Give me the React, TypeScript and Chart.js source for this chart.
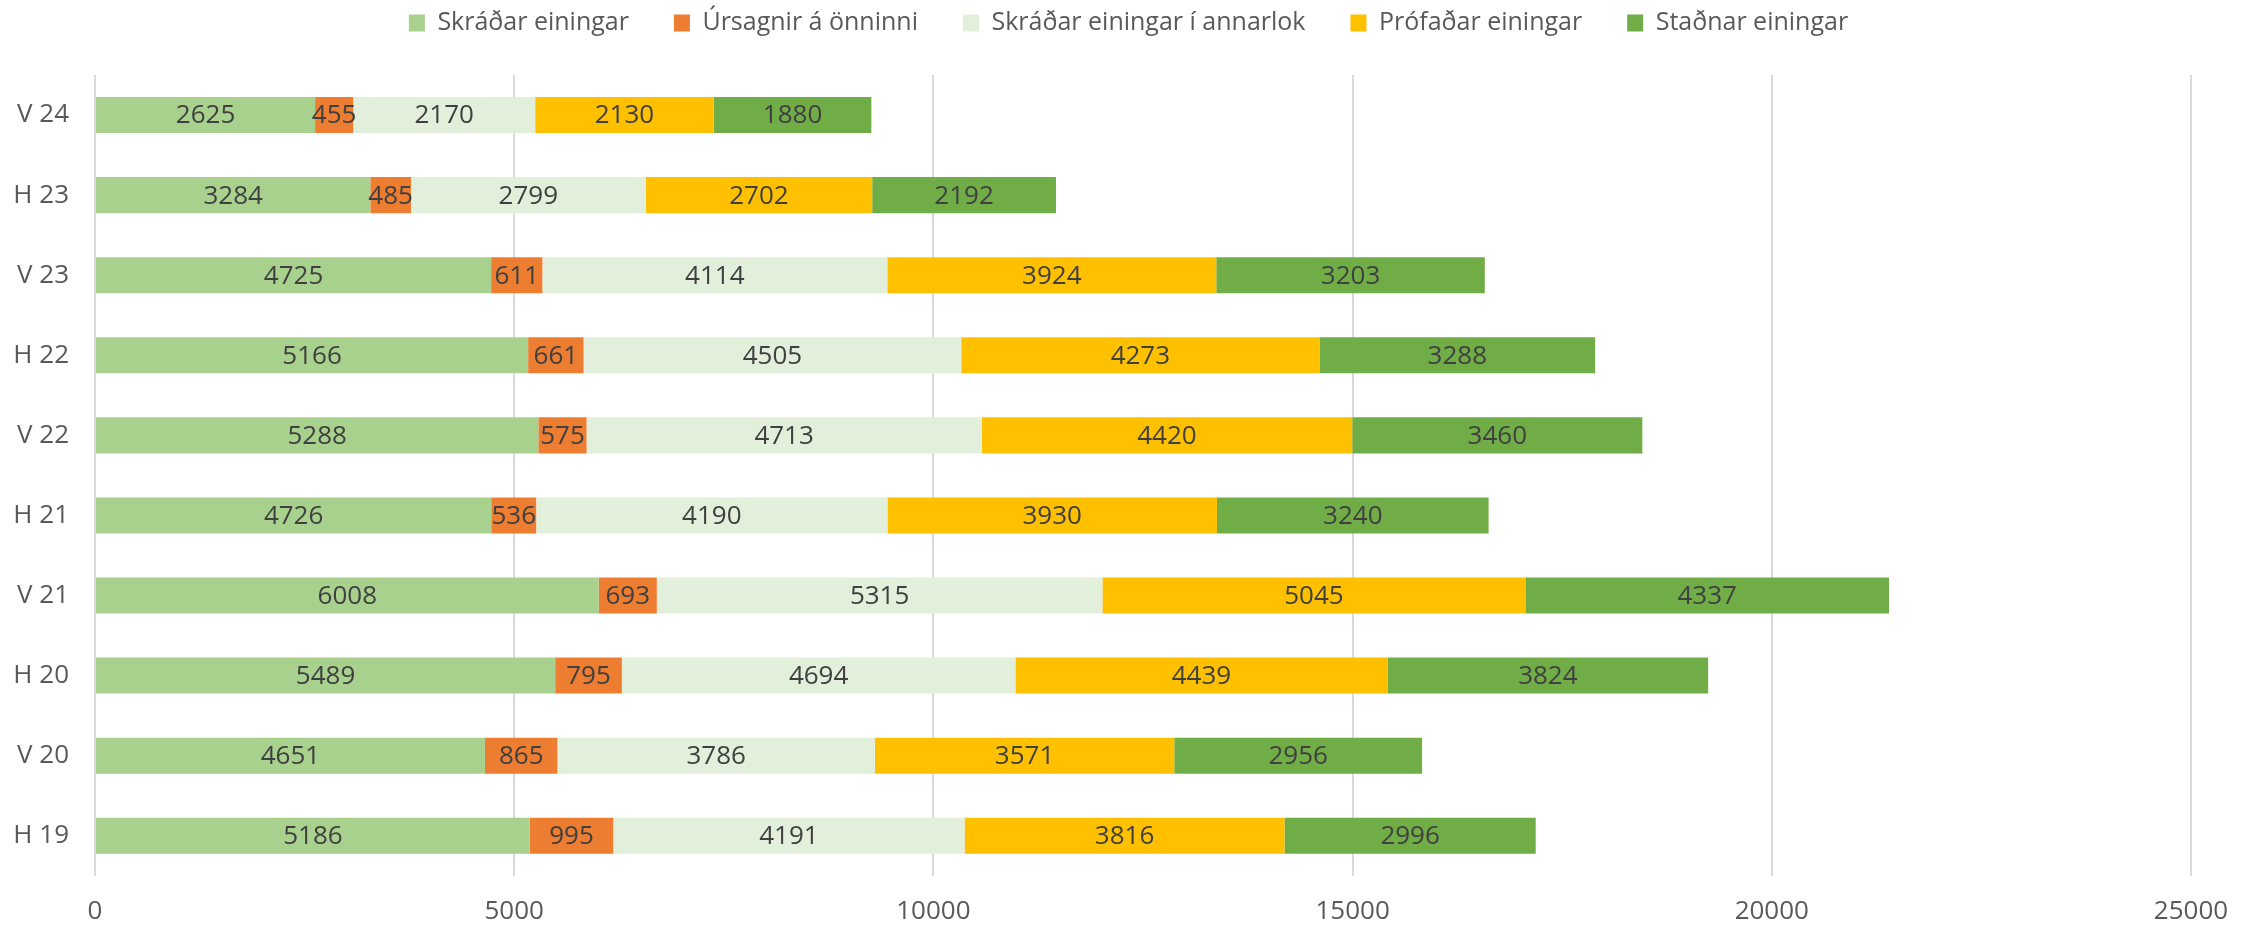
import React, { useEffect, useRef } from "react";
import { Chart, registerables } from "chart.js";

Chart.register(...registerables);

const categories = ["V 24", "H 23", "V 23", "H 22", "V 22", "H 21", "V 21", "H 20", "V 20", "H 19"];
const skradar = [2625, 3284, 4725, 5166, 5288, 4726, 6008, 5489, 4651, 5186];
const ursagnir = [455, 485, 611, 661, 575, 536, 693, 795, 865, 995];
const annarlok = [2170, 2799, 4114, 4505, 4713, 4190, 5315, 4694, 3786, 4191];
const profadar = [2130, 2702, 3924, 4273, 4420, 3930, 5045, 4439, 3571, 3816];
const stadnar = [1880, 2192, 3203, 3288, 3460, 3240, 4337, 3824, 2956, 2996];

const seriesNames = [
  "Skráðar einingar",
  "Úrsagnir á önninni",
  "Skráðar einingar í annarlok",
  "Prófaðar einingar",
  "Staðnar einingar",
];
const seriesColors = ["#A9D18E", "#ED7D31", "#E2EFDA", "#FFC000", "#70AD47"];

const FONT = '"Open Sans", "DejaVu Sans", sans-serif';
const LEGEND_PAD = 45;

const segLabels = {
  id: "segLabels",
  afterDatasetsDraw(chart: any) {
    const ctx = chart.ctx;
    ctx.save();
    ctx.font = `26px ${FONT}`;
    ctx.fillStyle = "#404040";
    ctx.textAlign = "center";
    ctx.textBaseline = "middle";
    chart.data.datasets.forEach((ds: any, i: number) => {
      const meta = chart.getDatasetMeta(i);
      meta.data.forEach((bar: any, j: number) => {
        const p = bar.getProps(["x", "y", "base"], true);
        ctx.fillText(String(ds.data[j]), (p.x + p.base) / 2, p.y + 1);
      });
    });
    ctx.restore();
  },
};

const legendPlace = {
  id: "legendPlace",
  beforeInit(chart: any) {
    const lg = chart.legend;
    if (lg) {
      const orig = lg.fit;
      lg.fit = function () {
        orig.call(this);
        this.height = 75;
      };
    }
  },
  afterLayout(chart: any) {
    const lg = chart.legend;
    if (lg) {
      lg.top = 23 - 12.5 - LEGEND_PAD;
      lg.bottom = lg.top + lg.height;
      lg.left = 0;
      lg.right = chart.width;
      lg.width = chart.width;
    }
  },
};

export default function App() {
  const ref = useRef<HTMLCanvasElement | null>(null);
  useEffect(() => {
    if (!ref.current) return;
    const series = [skradar, ursagnir, annarlok, profadar, stadnar];
    const chart = new Chart(ref.current, {
      type: "bar",
      data: {
        labels: categories,
        datasets: series.map((d, i) => ({
          label: seriesNames[i],
          data: d,
          backgroundColor: seriesColors[i],
          borderWidth: 0,
          barPercentage: 0.45,
          categoryPercentage: 1,
        })),
      },
      options: {
        indexAxis: "y",
        responsive: false,
        animation: false,
        devicePixelRatio: 1,
        layout: { padding: { top: 0, right: 66, bottom: -22, left: 0 } },
        plugins: {
          legend: {
            position: "top",
            labels: {
              boxWidth: 16,
              boxHeight: 17,
              padding: LEGEND_PAD,
              color: "#595959",
              font: { family: FONT, size: 25 },
            },
          },
          tooltip: { enabled: false },
        },
        scales: {
          x: {
            stacked: true,
            min: 0,
            max: 25000,
            ticks: {
              stepSize: 5000,
              color: "#595959",
              padding: 20,
              font: { family: FONT, size: 26 },
              callback: (v: any) => String(v),
            },
            grid: { color: "#D9D9D9", lineWidth: 2, drawTicks: false },
            border: { display: false },
          },
          y: {
            stacked: true,
            ticks: {
              color: "#595959",
              padding: 26,
              font: { family: FONT, size: 26 },
            },
            grid: { display: false, drawTicks: false },
            border: { display: false },
            afterFit(scale: any) {
              scale.width = 95;
            },
          },
        },
      },
      plugins: [segLabels, legendPlace],
    } as any);
    return () => chart.destroy();
  }, []);
  return (
    <canvas
      ref={ref}
      width={2257}
      height={925}
      style={{ position: "fixed", left: 0, top: 0, width: 2257, height: 925, background: "#fff" }}
    />
  );
}
